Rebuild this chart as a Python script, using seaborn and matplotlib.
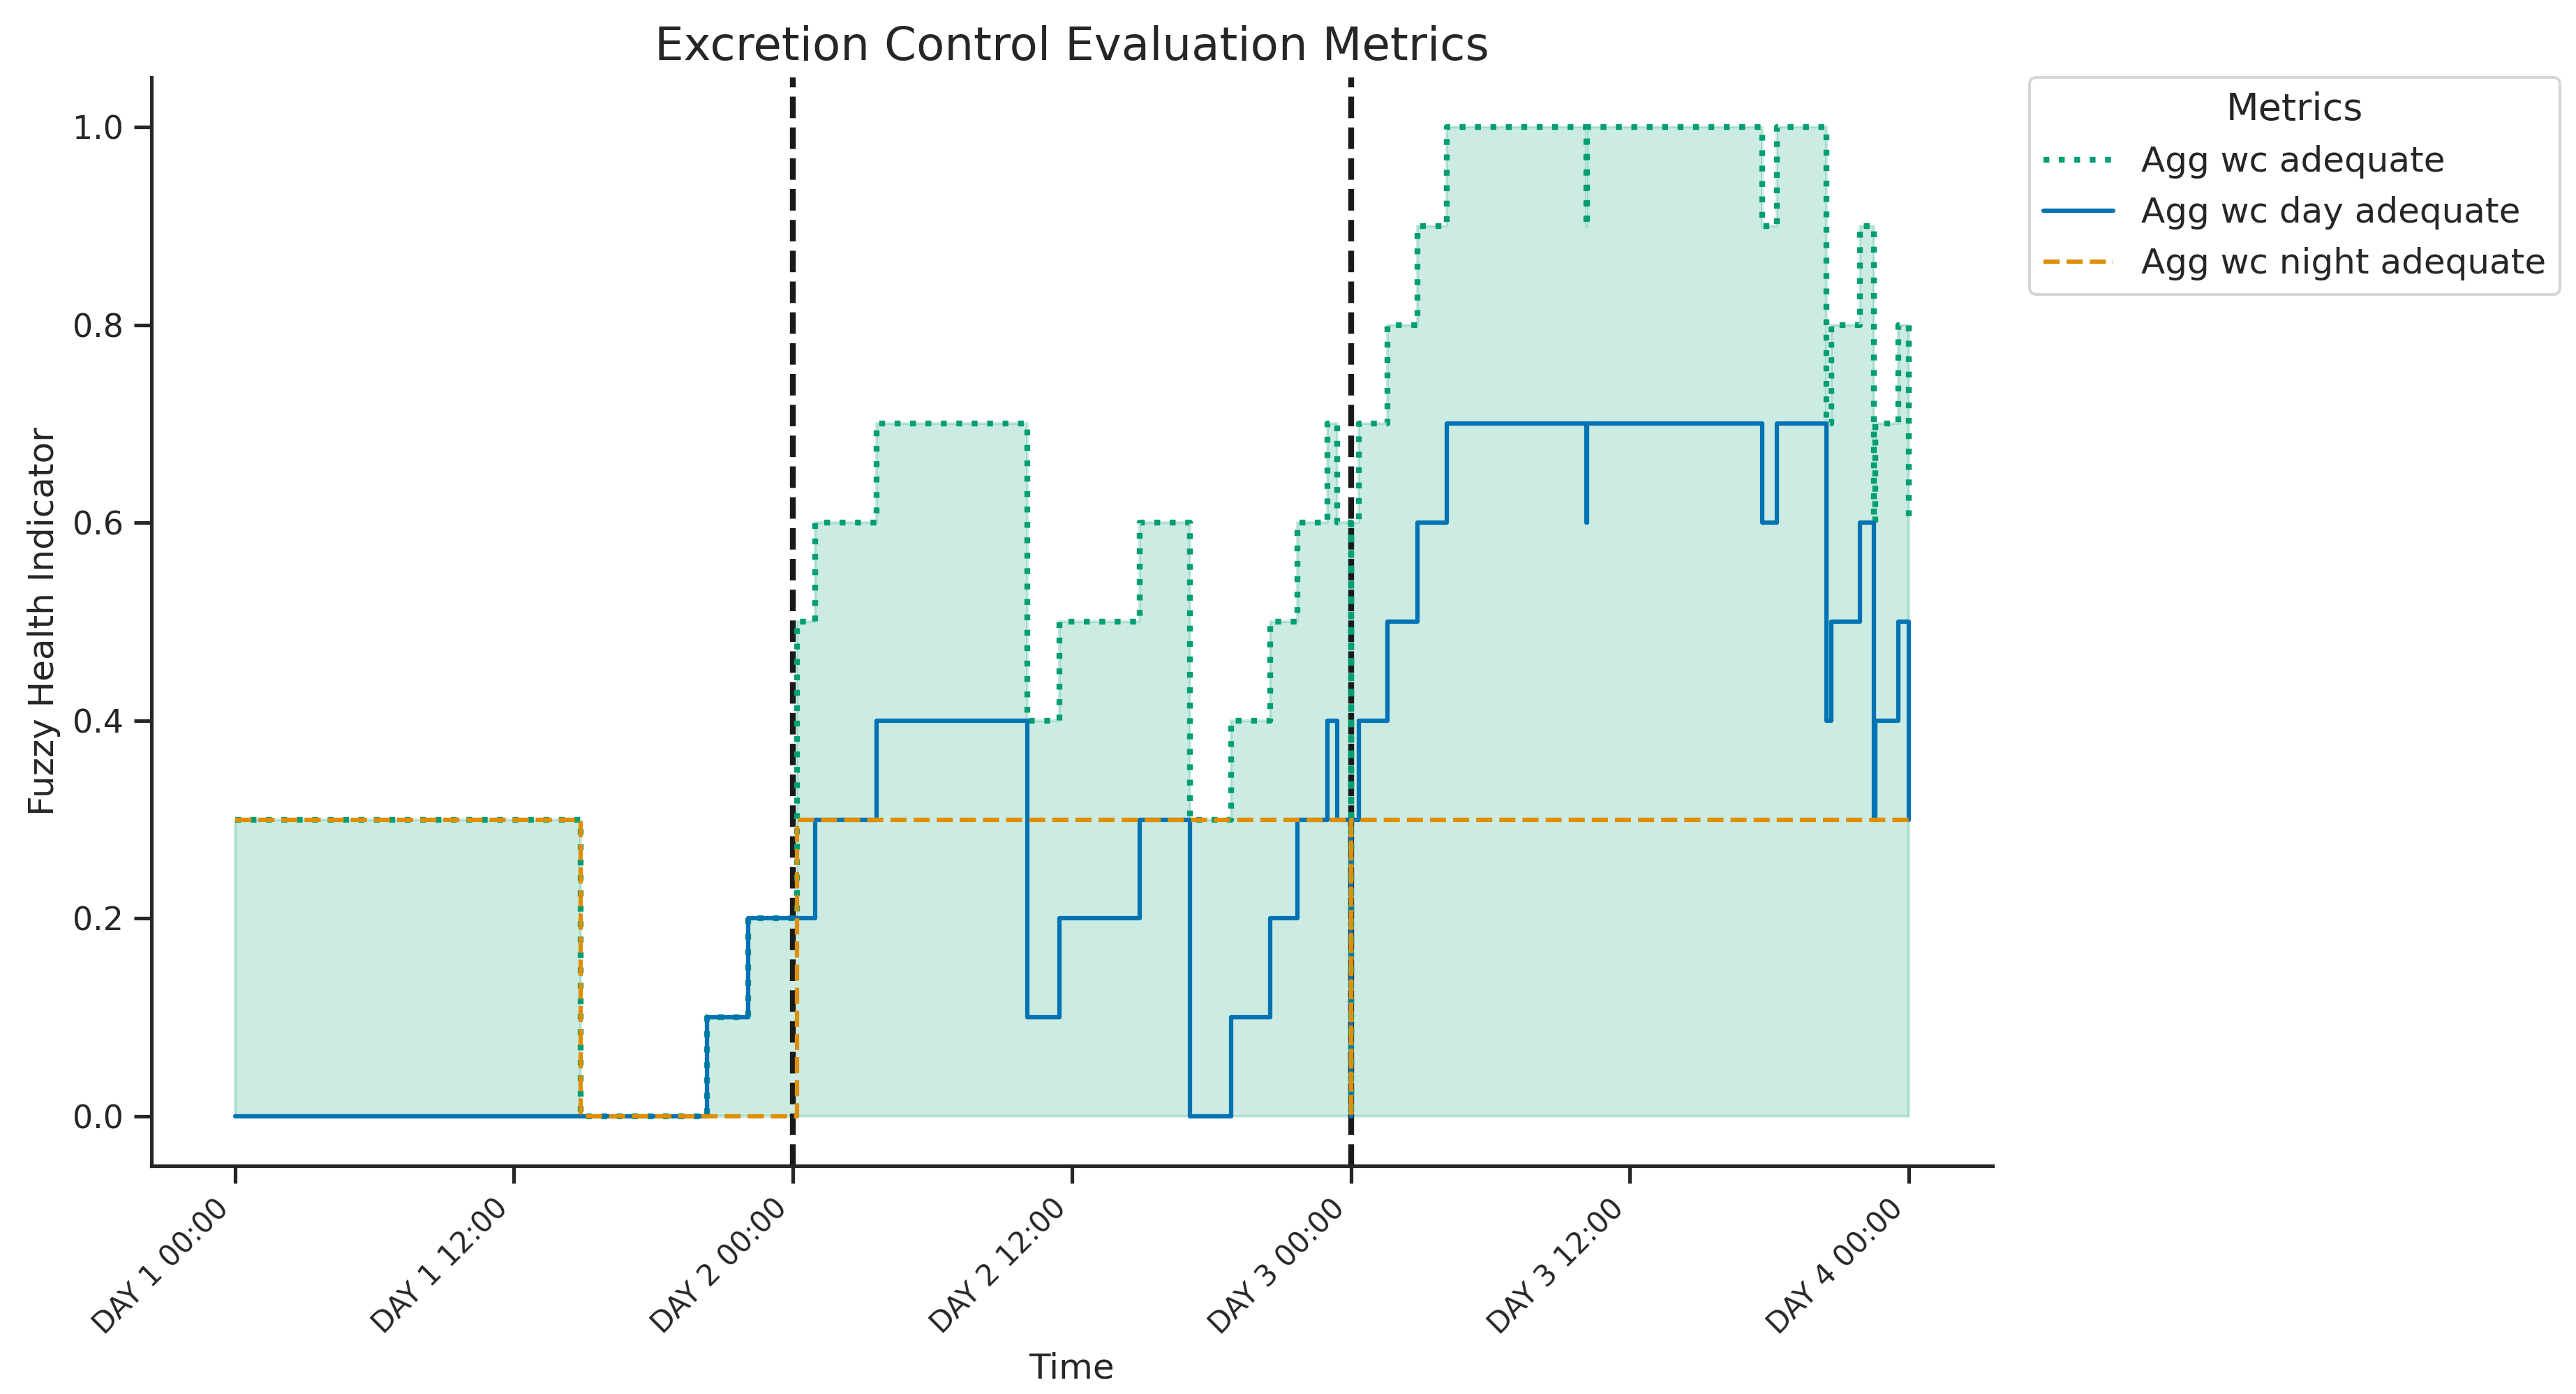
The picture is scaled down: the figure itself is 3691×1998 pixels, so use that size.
import pandas as pd
import seaborn as sns
import matplotlib.pyplot as plt

# Hours since DAY 1 00:00 where any metric changes value (step data)
hours = [0, 14.88, 20.32, 22.07, 24.19, 24.97, 27.6, 34.09, 35.47, 38.92,
         41.08, 42.85, 44.53, 45.7, 47.0, 47.4, 48.0, 48.02, 48.34, 49.57,
         50.86, 52.12, 58.13, 58.15, 65.7, 66.33, 68.46, 68.68, 69.9, 70.5,
         70.55, 71.55, 72.0]

agg_wc_adequate = [0.3, 0, 0.1, 0.2, 0.5, 0.6, 0.7, 0.4, 0.5, 0.6,
                   0.3, 0.4, 0.5, 0.6, 0.7, 0.6, 0, 0.6, 0.7, 0.8,
                   0.9, 1.0, 0.9, 1.0, 0.9, 1.0, 0.7, 0.8, 0.9, 0.6,
                   0.7, 0.8, 0.6]

agg_wc_day_adequate = [0, 0, 0.1, 0.2, 0.2, 0.3, 0.4, 0.1, 0.2, 0.3,
                       0, 0.1, 0.2, 0.3, 0.4, 0.3, 0, 0.3, 0.4, 0.5,
                       0.6, 0.7, 0.6, 0.7, 0.6, 0.7, 0.4, 0.5, 0.6, 0.3,
                       0.4, 0.5, 0.3]

agg_wc_night_adequate = [0.3, 0, 0, 0, 0.3, 0.3, 0.3, 0.3, 0.3, 0.3,
                         0.3, 0.3, 0.3, 0.3, 0.3, 0.3, 0, 0.3, 0.3, 0.3,
                         0.3, 0.3, 0.3, 0.3, 0.3, 0.3, 0.3, 0.3, 0.3, 0.3,
                         0.3, 0.3, 0.3]

tick_hours = [0, 12, 24, 36, 48, 60, 72]
tick_labels = ["DAY 1 00:00", "DAY 1 12:00", "DAY 2 00:00", "DAY 2 12:00",
               "DAY 3 00:00", "DAY 3 12:00", "DAY 4 00:00"]
day_boundaries = [24, 48]


def plot_metrics(data):
    """
    Plots the aggregated wc metrics as step lines, with the area under
    the overall metric shaded and day boundaries marked.
    """
    colors = sns.color_palette("colorblind")
    green, blue, orange = colors[2], colors[0], colors[1]

    fig, ax = plt.subplots(figsize=(3691 / 300, 1998 / 300), dpi=300)
    fig.subplots_adjust(left=0.0587, right=0.7735, bottom=0.1637, top=0.9444)

    for b in day_boundaries:
        ax.axvline(b, color="k", linestyle="--", linewidth=2)

    ax.fill_between(data["hours"], data["agg_wc_adequate"], step="post",
                    alpha=0.2, color=green)

    sns.lineplot(data=data, x="hours", y="agg_wc_adequate", ax=ax,
                 drawstyle="steps-post", color=green, linestyle=":",
                 linewidth=2, label="Agg wc adequate", errorbar=None)
    sns.lineplot(data=data, x="hours", y="agg_wc_day_adequate", ax=ax,
                 drawstyle="steps-post", color=blue, linestyle="-",
                 linewidth=1.5, label="Agg wc day adequate", errorbar=None)
    sns.lineplot(data=data, x="hours", y="agg_wc_night_adequate", ax=ax,
                 drawstyle="steps-post", color=orange, linestyle="--",
                 linewidth=1.5, label="Agg wc night adequate", errorbar=None)

    ax.set_xticks(tick_hours)
    ax.set_xticklabels(tick_labels, rotation=45, ha="right", fontsize=10)
    ax.set_title("Excretion Control Evaluation Metrics", fontsize=15.8)
    ax.set_xlabel("Time", fontsize=12)
    ax.set_ylabel("Fuzzy Health Indicator", fontsize=12)
    ax.legend(title="Metrics", bbox_to_anchor=(1.02, 1), loc="upper left",
              borderaxespad=0, fontsize=12, title_fontsize=13)
    sns.despine(ax=ax)
    fig.savefig("out.png", dpi=300)


def main():
    sns.set_theme(style="ticks", context="notebook")
    data = pd.DataFrame({
        "hours": hours,
        "agg_wc_adequate": agg_wc_adequate,
        "agg_wc_day_adequate": agg_wc_day_adequate,
        "agg_wc_night_adequate": agg_wc_night_adequate,
    })
    plot_metrics(data)


if __name__ == "__main__":
    main()
